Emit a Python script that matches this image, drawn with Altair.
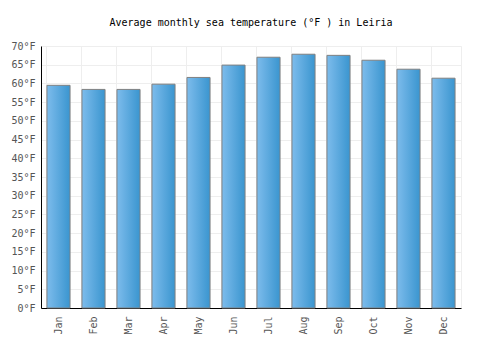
import altair as alt
import pandas as pd

months = ["Jan", "Feb", "Mar", "Apr", "May", "Jun", "Jul", "Aug", "Sep", "Oct", "Nov", "Dec"]
temps = [59.5, 58.4, 58.4, 59.8, 61.6, 64.9, 67.0, 67.8, 67.5, 66.2, 63.8, 61.4]
y_ticks = list(range(0, 75, 5))

df = pd.DataFrame({"month": months, "temp": temps})
FONT = "DejaVu Sans Mono"

bars = alt.Chart(df).mark_bar(
    fill=alt.Gradient(
        gradient="linear",
        stops=[alt.GradientStop(color="#7dbcec", offset=0), alt.GradientStop(color="#3a95cf", offset=1)],
        x1=0, x2=1, y1=0, y2=0,
    ),
    stroke="#808080",
    strokeWidth=1,
).encode(
    x=alt.X("month:N", sort=months, title=None,
            scale=alt.Scale(paddingInner=0.34, paddingOuter=0.17),
            axis=alt.Axis(labelAngle=270, labelFont=FONT, labelFontSize=10, labelColor="#555555",
                          domainColor="#000000", domainWidth=1, ticks=False, labelPadding=8,
                          grid=True, gridColor="#eeeeee", bandPosition=0)),
    y=alt.Y("temp:Q", title=None,
            scale=alt.Scale(domain=[0, 70], nice=False),
            axis=alt.Axis(values=y_ticks, labelExpr="datum.value + '°F'", labelFont=FONT,
                          labelFontSize=10, labelColor="#555555", domainColor="#000000",
                          ticks=False, labelPadding=6, gridColor="#eeeeee")),
)

chart = bars.properties(
    width=420, height=262,
    title=alt.TitleParams("Average monthly sea temperature (°F ) in Leiria", font=FONT, fontSize=10,
                          fontWeight="normal", color="#000000", offset=13),
    autosize=alt.AutoSizeParams(type="none"),
    padding={"left": 41, "top": 46, "right": 39, "bottom": 42},
).configure_view(stroke="#eeeeee")

chart.save("out.html", embed_options={"renderer": "svg", "actions": False})
